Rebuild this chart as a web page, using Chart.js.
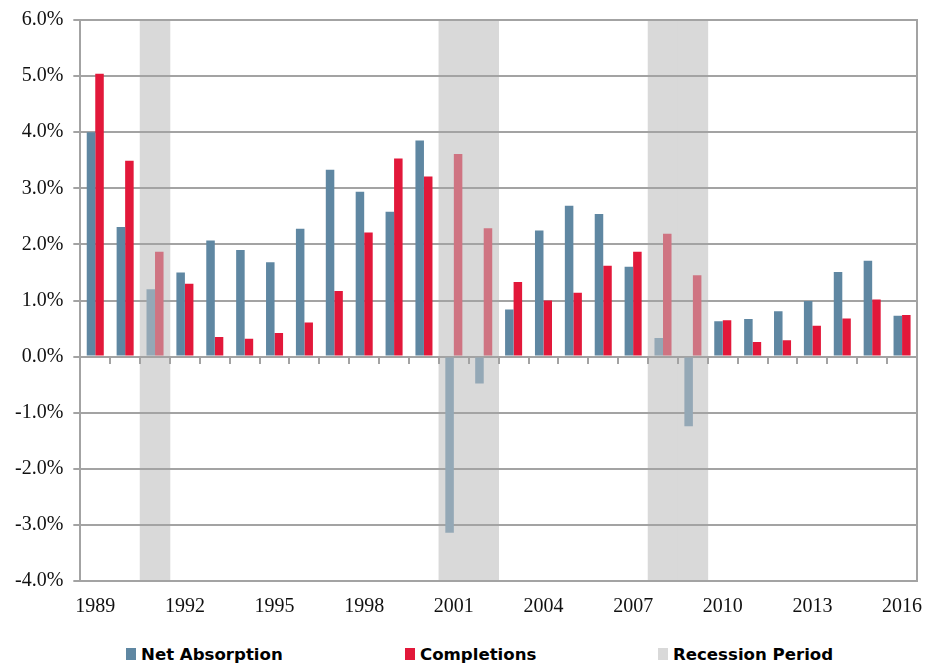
<!DOCTYPE html>
<html>
<head>
<meta charset="utf-8">
<script src="https://cdn.jsdelivr.net/npm/chart.js@4/dist/chart.umd.min.js"></script>
<style>
  html, body { margin: 0; padding: 0; background: #ffffff; }
  #wrap { position: relative; width: 938px; height: 664px; overflow: hidden; }
  #c { position: absolute; left: 0; top: 0; }
  .item { position: absolute; top: 645px; height: 18px; line-height: 18px;
          font: bold 16.6px "DejaVu Sans", sans-serif; color: #000; white-space: nowrap; }
  .box { position: absolute; left: 0; top: 3px; width: 10px; height: 12px; }
  .txt { position: absolute; left: 15px; top: 0; }
</style>
</head>
<body>
<div id="wrap">
  <canvas id="c" width="938" height="633"></canvas>
  <div class="item" style="left:126px"><span class="box" style="background:#5F87A2"></span><span class="txt">Net Absorption</span></div>
  <div class="item" style="left:405px"><span class="box" style="background:#E2183A"></span><span class="txt">Completions</span></div>
  <div class="item" style="left:658px"><span class="box" style="background:#D9D9D9"></span><span class="txt">Recession Period</span></div>
</div>
<script>
// ---- data ----
const years = ['1989','1990','1991','1992','1993','1994','1995','1996','1997','1998',
               '1999','2000','2001','2002','2003','2004','2005','2006','2007','2008',
               '2009','2010','2011','2012','2013','2014','2015','2016'];
const netAbsorption = [4.00, 2.31, 1.20, 1.50, 2.07, 1.90, 1.68, 2.28, 3.33, 2.94,
                       2.58, 3.85, -3.14, -0.48, 0.84, 2.25, 2.69, 2.54, 1.60, 0.33,
                       -1.24, 0.63, 0.67, 0.81, 0.99, 1.51, 1.71, 0.73];
const completions   = [5.04, 3.49, 1.87, 1.30, 0.35, 0.32, 0.42, 0.61, 1.17, 2.21,
                       3.53, 3.21, 3.61, 2.29, 1.33, 1.00, 1.14, 1.62, 1.87, 2.19,
                       1.45, 0.65, 0.26, 0.29, 0.55, 0.68, 1.02, 0.74];
const recessionYears = ['1991','2001','2002','2008','2009'];
const xTickLabels = ['1989','1992','1995','1998','2001','2004','2007','2010','2013','2016'];
const yRange = [-4, 6];

// ---- styles ----
const BLUE = '#5F87A2', BLUE_FADED = '#94A8B6';
const RED = '#E2183A', RED_FADED = '#CF7482';
const SHADE = '#D9D9D9';
const GRID = '#A3A3A3';

const isRec = years.map(y => recessionYears.includes(y));
const recessionData = years.map((y, i) => isRec[i] ? [yRange[0], yRange[1]] : null);

// draw the recession dataset underneath the grid
const shadeFirst = {
  id: 'shadeFirst',
  beforeDraw(chart) {
    const meta = chart.getDatasetMeta(2);
    if (meta && meta.controller) {
      chart.ctx.save();
      meta.controller.draw();
      chart.ctx.restore();
    }
  },
  beforeDatasetDraw(chart, args) {
    if (args.index === 2) return false;
  }
};

const serif = { family: '"Liberation Serif", "Times New Roman", serif', size: 20 };
const serifY = { family: '"Liberation Serif", "Times New Roman", serif', size: 20, lineHeight: 1 };

new Chart(document.getElementById('c'), {
  type: 'bar',
  data: {
    labels: years,
    datasets: [
      { label: 'Net Absorption', data: netAbsorption,
        backgroundColor: isRec.map(r => r ? BLUE_FADED : BLUE),
        barPercentage: 1, categoryPercentage: 0.57, order: 1 },
      { label: 'Completions', data: completions,
        backgroundColor: isRec.map(r => r ? RED_FADED : RED),
        barPercentage: 1, categoryPercentage: 0.57, order: 1 },
      { label: 'Recession Period', data: recessionData,
        backgroundColor: SHADE, grouped: false,
        barPercentage: 1, categoryPercentage: 1, order: 5 }
    ]
  },
  options: {
    responsive: false,
    animation: false,
    layout: { padding: { left: 5, right: 21, top: 17, bottom: 0 } },
    plugins: { legend: { display: false }, tooltip: { enabled: false } },
    scales: {
      x: {
        type: 'category',
        offset: true,
        grid: { display: false, drawTicks: false },
        border: { display: false },
        ticks: {
          autoSkip: false, maxRotation: 0, minRotation: 0, padding: 14,
          color: '#111', font: serif,
          callback: function (v) {
            const l = this.getLabelForValue(v);
            return xTickLabels.includes(l) ? l : '';
          }
        }
      },
      x0: {
        type: 'category',
        labels: years,
        offset: true,
        position: { y: 0 },
        grid: { offset: true, drawOnChartArea: false, drawTicks: true, tickLength: 6,
                color: GRID, lineWidth: 2 },
        border: { display: true, color: GRID, width: 2 },
        ticks: { display: false }
      },
      y: {
        min: yRange[0], max: yRange[1],
        ticks: { stepSize: 1, padding: 10, color: '#111', font: serifY,
                 callback: v => v.toFixed(1) + '%' },
        grid: { color: GRID, lineWidth: 2, tickLength: 7, drawTicks: true },
        border: { display: true, color: GRID, width: 2 }
      },
      yr: {
        position: 'right',
        min: yRange[0], max: yRange[1],
        ticks: { display: false },
        grid: { drawOnChartArea: false, drawTicks: false },
        border: { display: true, color: GRID, width: 2 }
      }
    }
  },
  plugins: [shadeFirst]
});
</script>
</body>
</html>
